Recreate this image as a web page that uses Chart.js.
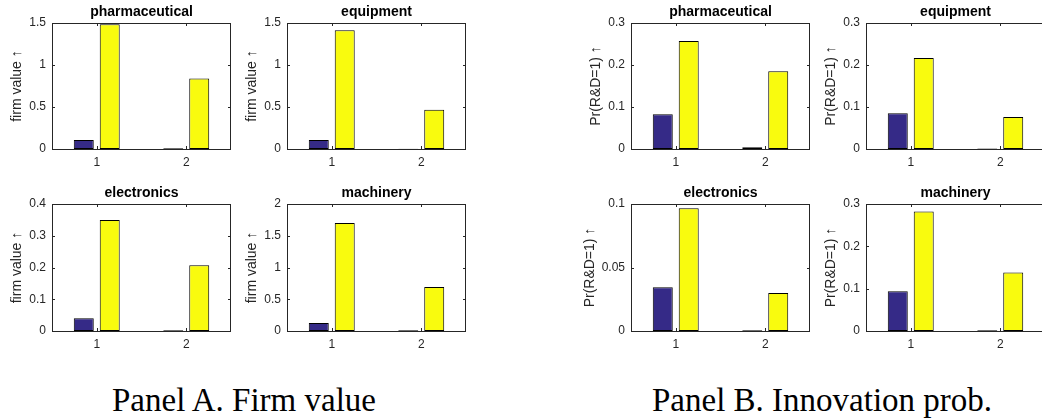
<!DOCTYPE html>
<html>
<head>
<meta charset="utf-8">
<title>Firm value and innovation probability by industry</title>
<script src="https://cdn.jsdelivr.net/npm/chart.js@4"></script>
<style>
  body {
    margin: 0;
    width: 1042px;
    height: 418px;
    overflow: hidden;
    position: relative;
    background: #fff;
  }
  canvas {
    position: absolute;
  }
  .caption {
    position: absolute;
    top: 384px;
    font-family: "Liberation Serif", serif;
    font-size: 33px;
    line-height: 33px;
    color: #000;
    white-space: nowrap;
  }
</style>
</head>
<body>
<div class="caption" style="left: 112px">Panel A. Firm value</div>
<div class="caption" style="left: 652px">Panel B. Innovation prob.</div>
<script>
// Groups on the x axis and the four industries
const groups = ["1", "2"];
const industries = ["pharmaceutical", "equipment", "electronics", "machinery"];

// Panel A: firm value, [group 1, group 2] for each industry
const firmValueDark = [[0.107, 0.01], [0.107, 0.003], [0.04, 0.002], [0.125, 0.01]];
const firmValueYellow = [[1.485, 0.84], [1.413, 0.468], [0.35, 0.207], [1.70, 0.694]];
const firmValueMax = [1.5, 1.5, 0.4, 2];
const firmValueStep = [0.5, 0.5, 0.1, 0.5];

// Panel B: Pr(R&D=1), [group 1, group 2] for each industry
const innovDark = [[0.0826, 0.004], [0.085, 0.001], [0.0344, 0.0005], [0.0938, 0.002]];
const innovYellow = [[0.257, 0.185], [0.2167, 0.0762], [0.0966, 0.0299], [0.282, 0.138]];
const innovMax = [0.3, 0.3, 0.1, 0.3];
const innovStep = [0.1, 0.1, 0.05, 0.1];

// Layout of the 2x4 grid of small plots
const plotLefts = [52, 287, 631, 866];
const rowTops = [23, 204];
const plotHeights = [126, 127];
const plotWidth = 179;
const axisWidth = 52;   // room for y tick labels and y title
const titleBand = 23;   // room above the plot for its title
const tickBand = 25;    // room below the plot for x tick labels

const sans = "'Liberation Sans', Arial, sans-serif";
const axisColor = "#262626";

// Box around the plot area with short inward ticks on all four sides
const boxTicks = {
  id: "boxTicks",
  afterDatasetsDraw(chart) {
    const { ctx, chartArea: a, scales } = chart;
    const len = 3;
    ctx.save();
    ctx.strokeStyle = axisColor;
    ctx.lineWidth = 1;
    ctx.beginPath();
    ctx.rect(a.left + 0.5, a.top + 0.5, a.right - a.left - 1, a.bottom - a.top);
    scales.y.ticks.forEach((t, i) => {
      const py = Math.round(scales.y.getPixelForTick(i)) + 0.5;
      ctx.moveTo(a.left, py);
      ctx.lineTo(a.left + len, py);
      ctx.moveTo(a.right - len, py);
      ctx.lineTo(a.right, py);
    });
    scales.x.ticks.forEach((t, i) => {
      const px = Math.round(scales.x.getPixelForTick(i)) + 0.5;
      ctx.moveTo(px, a.bottom);
      ctx.lineTo(px, a.bottom - len);
      ctx.moveTo(px, a.top);
      ctx.lineTo(px, a.top + len);
    });
    ctx.stroke();
    ctx.restore();
  },
};

function drawSubplot(left, top, height, title, dark, yellow, max, step, yLabel, labelPad) {
  const canvas = document.createElement("canvas");
  const width = axisWidth + plotWidth + 2;
  canvas.width = width;
  canvas.height = titleBand + height + tickBand;
  canvas.style.left = left - axisWidth + "px";
  canvas.style.top = top - titleBand + "px";
  canvas.style.width = width + "px";
  canvas.style.height = canvas.height + "px";
  document.body.appendChild(canvas);

  new Chart(canvas.getContext("2d"), {
    type: "bar",
    data: {
      labels: groups,
      datasets: [
        {
          data: dark,
          backgroundColor: "#352a87",
          borderColor: "#000",
          borderWidth: 1,
          borderSkipped: false,
        },
        {
          data: yellow,
          backgroundColor: "#f9fb0e",
          borderColor: "#000",
          borderWidth: 1,
          borderSkipped: false,
        },
      ],
    },
    options: {
      responsive: false,
      animation: false,
      devicePixelRatio: 1,
      layout: { padding: { top: 0, right: 2, bottom: 0, left: 0 } },
      datasets: { bar: { categoryPercentage: 0.58, barPercentage: 0.77 } },
      plugins: {
        legend: { display: false },
        tooltip: { enabled: false },
        title: {
          display: true,
          fullSize: false, // center the title over the plot area only
          text: title,
          color: "#000",
          font: { family: sans, size: 14, weight: "bold", lineHeight: 1 },
          padding: { top: 5, bottom: 4 },
        },
      },
      scales: {
        x: {
          grid: { display: false, drawTicks: false },
          border: { display: false },
          ticks: { color: axisColor, font: { family: sans, size: 12 }, padding: 6 },
          afterFit: (s) => { s.height = tickBand; },
        },
        y: {
          min: 0,
          max: max,
          grid: { display: false, drawTicks: false },
          border: { display: false },
          ticks: {
            stepSize: step,
            color: axisColor,
            font: { family: sans, size: 12 },
            padding: 6,
            callback: (v) => String(+v.toFixed(3)), // 1 and 0.1 rather than 1.0 and 0.10
          },
          title: {
            display: true,
            text: yLabel,
            color: axisColor,
            font: { family: sans, size: 14, lineHeight: 1 },
            padding: { top: labelPad, bottom: 0 },
          },
          afterFit: (s) => { s.width = axisWidth; },
        },
      },
    },
    plugins: [boxTicks],
  });
}

// Panel A takes the two left columns, panel B the two right ones
industries.forEach((name, i) => {
  const row = i >> 1;
  const col = i & 1;
  drawSubplot(plotLefts[col], rowTops[row], plotHeights[row], name,
    firmValueDark[i], firmValueYellow[i], firmValueMax[i], firmValueStep[i],
    "firm value \u2191", 10);
  drawSubplot(plotLefts[col + 2], rowTops[row], plotHeights[row], name,
    innovDark[i], innovYellow[i], innovMax[i], innovStep[i],
    "Pr(R&D=1) \u2191", i === 2 ? 4 : 10);
});
</script>
</body>
</html>
